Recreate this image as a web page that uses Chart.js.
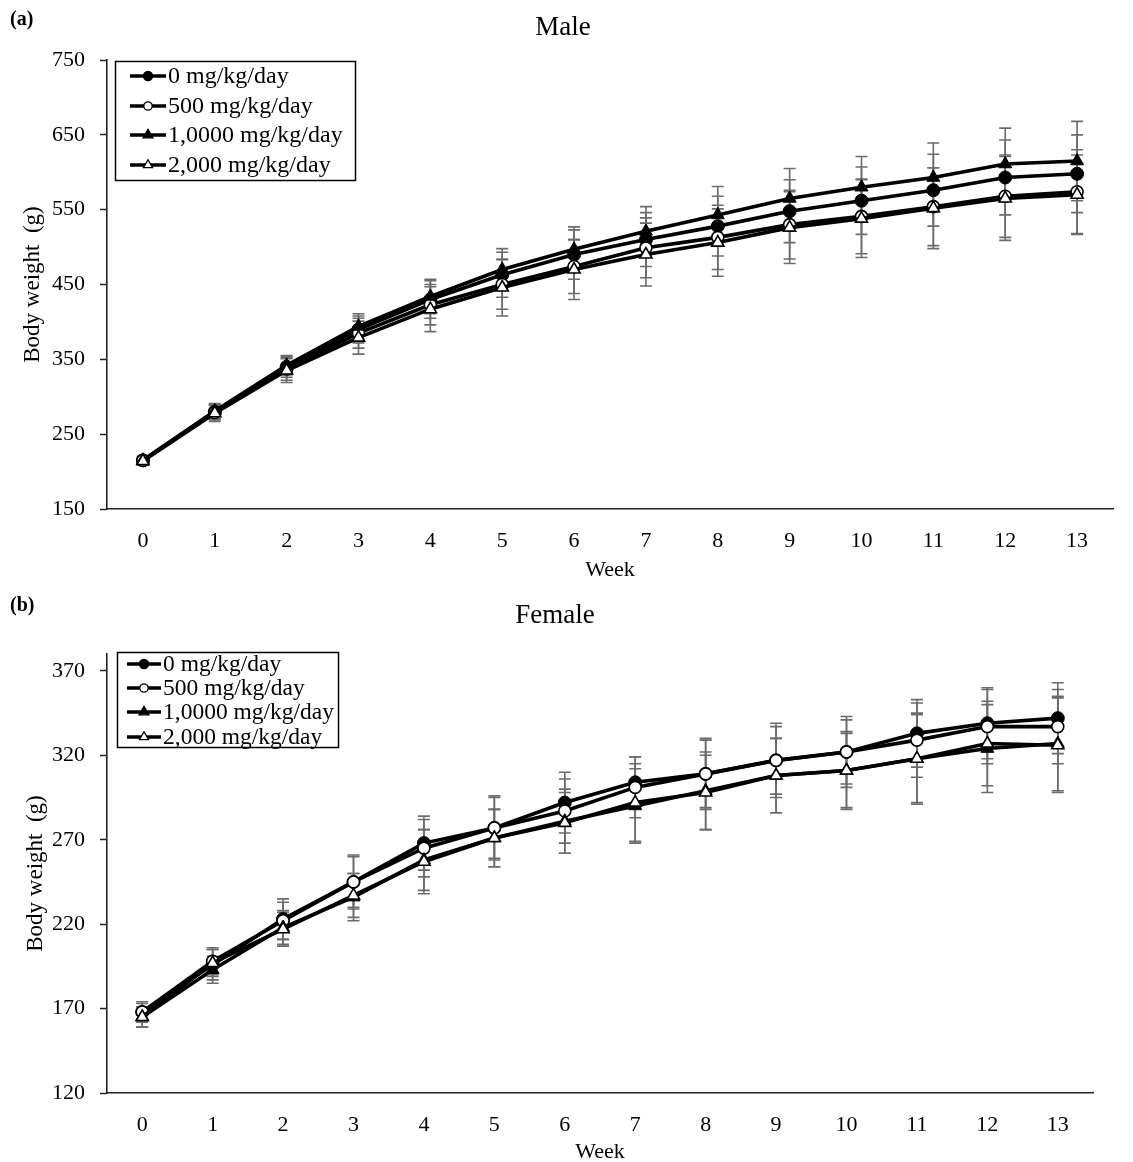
<!DOCTYPE html>
<html><head><meta charset="utf-8">
<script src="https://cdn.jsdelivr.net/npm/chart.js@4.4.1/dist/chart.umd.min.js"></script>
<style>
html,body{margin:0;padding:0;background:#fff;overflow:hidden;}
#wrap{position:relative;width:1133px;height:1162px;}
canvas{position:absolute;left:0;}
</style></head><body>
<div id="wrap">
<canvas id="male" width="1133" height="590" style="top:0;width:1133px;height:590px"></canvas>
<canvas id="female" width="1133" height="572" style="top:590px;width:1133px;height:572px"></canvas>
</div>
<script>
// ---------- data ----------
const weeks = ['0','1','2','3','4','5','6','7','8','9','10','11','12','13'];
const seriesLabels = ['0 mg/kg/day','500 mg/kg/day','1,0000 mg/kg/day','2,000 mg/kg/day'];

// Male body weight (g)
const male0    = [215, 280, 340, 390, 430, 463, 490, 510, 528, 548, 562, 576, 593, 598];
const male500  = [215, 279, 337, 385, 423, 450, 474, 499, 513, 530, 541, 554, 568, 574];
const male1000 = [215, 281, 342, 394, 434, 470, 497, 521, 543, 565, 580, 593, 611, 615];
const male2000 = [214, 278, 335, 379, 417, 446, 470, 490, 506, 526, 538, 552, 565, 570];
const maleSd0    = [5, 10, 14, 18, 25, 30, 33, 36, 40, 42, 45, 48, 50, 52];
const maleSd500  = [5, 10, 15, 20, 27, 33, 36, 40, 43, 46, 50, 52, 55, 56];
const maleSd1000 = [5, 10, 13, 17, 23, 28, 30, 33, 38, 40, 41, 46, 48, 53];
const maleSd2000 = [5, 11, 16, 22, 30, 38, 40, 42, 45, 48, 52, 54, 56, 53];
const maleYTicks = [150, 250, 350, 450, 550, 650, 750];

// Female body weight (g)
const female0    = [168, 196, 223, 245, 268, 277, 292, 304, 309, 317, 322, 333, 339, 342];
const female500  = [168, 198, 222, 245, 265, 277, 287, 301, 309, 317, 322, 329, 337, 337];
const female1000 = [165, 193, 218, 236, 258, 271, 281, 290, 299, 308, 311, 318, 324, 327];
const female2000 = [165, 197, 217, 237, 257, 271, 280, 292, 298, 308, 311, 318, 327, 326];
const femaleSd0    = [6, 9, 12, 16, 16, 19, 18, 15, 20, 20, 19, 20, 21, 21];
const femaleSd500  = [5, 8, 11, 15, 17, 18, 19, 18, 21, 22, 21, 22, 22, 22];
const femaleSd1000 = [6, 8, 10, 14, 18, 17, 19, 22, 23, 22, 23, 27, 26, 28];
const femaleSd2000 = [6, 8, 10, 13, 19, 17, 18, 23, 22, 22, 22, 26, 25, 28];
const femaleYTicks = [120, 170, 220, 270, 320, 370];

// ---------- styling ----------
const FONT = "'Liberation Serif','Times New Roman',serif";
const markerStyles = [
  {pointStyle:'circle',   bg:'#000', r:6.5, bw:1},
  {pointStyle:'circle',   bg:'#fff', r:6,   bw:1.6},
  {pointStyle:'triangle', bg:'#000', r:7.5, bw:1},
  {pointStyle:'triangle', bg:'#fff', r:7,   bw:1.6}
];

function makeChart(id, o){
  const sds = o.sds;
  const errorBars = {
    id:'errorBars',
    beforeDatasetsDraw(chart){
      const ctx = chart.ctx, ys = chart.scales.y;
      ctx.save();
      ctx.strokeStyle = '#6b6b6b';
      ctx.lineWidth = 1.6;
      chart.data.datasets.forEach((ds, i) => {
        const meta = chart.getDatasetMeta(i);
        meta.data.forEach((pt, j) => {
          const v = ds.data[j], e = sds[i][j];
          const t = ys.getPixelForValue(v + e), b = ys.getPixelForValue(v - e);
          ctx.beginPath();
          ctx.moveTo(pt.x, t); ctx.lineTo(pt.x, b);
          ctx.moveTo(pt.x - 6, t); ctx.lineTo(pt.x + 6, t);
          ctx.moveTo(pt.x - 6, b); ctx.lineTo(pt.x + 6, b);
          ctx.stroke();
        });
      });
      ctx.restore();
    }
  };
  const decor = {
    id:'decor',
    afterDraw(chart){
      const ctx = chart.ctx;
      ctx.save();
      // panel label & title
      ctx.fillStyle = '#000';
      ctx.textBaseline = 'middle';
      ctx.textAlign = 'left';
      ctx.font = "bold 20px " + FONT;
      ctx.fillText(o.panel, 10, o.panelY);
      ctx.textAlign = 'center';
      ctx.font = "27px " + FONT;
      ctx.fillText(o.title, o.titleX, o.titleY);
      // legend box
      const L = o.legend;
      ctx.strokeStyle = '#000';
      ctx.lineWidth = 1.5;
      ctx.strokeRect(L.x, L.y, L.w, L.h);
      ctx.font = L.fontSize + "px " + FONT;
      ctx.textAlign = 'left';
      chart.data.datasets.forEach((ds, i) => {
        const y = L.rows[i];
        ctx.beginPath();
        ctx.strokeStyle = '#000';
        ctx.lineWidth = 3.5;
        ctx.moveTo(L.lx0, y); ctx.lineTo(L.lx1, y);
        ctx.stroke();
        const m = markerStyles[i];
        const cx = (L.lx0 + L.lx1) / 2;
        ctx.fillStyle = m.bg; ctx.strokeStyle = '#000'; ctx.lineWidth = 1.3;
        ctx.beginPath();
        if (m.pointStyle === 'circle') {
          ctx.arc(cx, y, m.r * 0.7, 0, Math.PI * 2);
        } else {
          const r = m.r * 0.75;
          ctx.moveTo(cx, y - r);
          ctx.lineTo(cx + r * 0.866, y + r * 0.5);
          ctx.lineTo(cx - r * 0.866, y + r * 0.5);
          ctx.closePath();
        }
        ctx.fill(); ctx.stroke();
        ctx.fillStyle = '#000';
        ctx.fillText(ds.label, L.tx, y + 1);
      });
      ctx.restore();
    }
  };

  const datasets = o.series.map((d, i) => ({
    label: seriesLabels[i],
    data: d,
    borderColor: '#000',
    borderWidth: 3.6,
    tension: 0,
    pointStyle: markerStyles[i].pointStyle,
    pointRadius: markerStyles[i].r,
    pointBackgroundColor: markerStyles[i].bg,
    pointBorderColor: '#000',
    pointBorderWidth: markerStyles[i].bw,
    order: 3 - i,
    clip: false
  }));

  return new Chart(document.getElementById(id), {
    type: 'line',
    data: { labels: weeks, datasets },
    options: {
      responsive: false,
      animation: false,
      devicePixelRatio: 1,
      layout: { padding: { left: 0, top: o.area.top, right: o.canvasW - o.area.right, bottom: 0 } },
      plugins: { legend: { display: false }, tooltip: { enabled: false }, title: { display: false } },
      scales: {
        x: {
          type: 'category',
          offset: true,
          grid: { display: false },
          border: { display: true, color: '#222', width: 1.6 },
          ticks: { color: '#000', font: { family: FONT, size: 22 }, padding: 11, maxRotation: 0, autoSkip: false },
          title: { display: true, text: 'Week', color: '#000',
                   font: { family: FONT, size: 22, lineHeight: o.xTitleLH }, padding: { top: 0, bottom: o.xTitlePad } },
          afterFit(s){ s.height = o.canvasH - o.area.bottom; }
        },
        y: {
          min: o.yMin, max: o.yMax,
          afterBuildTicks(s){ s.ticks = o.yTicks.map(v => ({ value: v })); },
          grid: { display: true, drawOnChartArea: false, drawTicks: true, tickLength: 7, tickWidth: 1.5, tickColor: '#222' },
          border: { display: true, color: '#222', width: 1.6 },
          ticks: { color: '#000', font: { family: FONT, size: 22 }, padding: 15 },
          title: { display: true, text: 'Body weight  (g)', color: '#000',
                   font: { family: FONT, size: 23, lineHeight: 1.2 }, padding: { top: o.yTitlePad, bottom: 0 } },
          afterFit(s){ s.width = o.area.left; }
        }
      }
    },
    plugins: [errorBars, decor]
  });
}

makeChart('male', {
  canvasW: 1133, canvasH: 590,
  area: { left: 107, right: 1113, top: 60, bottom: 509 },
  series: [male0, male500, male1000, male2000],
  sds: [maleSd0, maleSd500, maleSd1000, maleSd2000],
  yMin: 150, yMax: 750, yTicks: maleYTicks,
  xTitleLH: 1.2, xTitlePad: 7, yTitlePad: 19,
  panel: '(a)', panelY: 20, title: 'Male', titleX: 563, titleY: 28,
  legend: { x: 115.5, y: 61.5, w: 240, h: 119, rows: [76, 106, 135, 165], lx0: 130, lx1: 166, tx: 168, fontSize: 24 }
});

makeChart('female', {
  canvasW: 1133, canvasH: 572,
  area: { left: 107, right: 1093, top: 64, bottom: 503 },
  series: [female0, female500, female1000, female2000],
  sds: [femaleSd0, femaleSd500, femaleSd1000, femaleSd2000],
  yMin: 120, yMax: 380, yTicks: femaleYTicks,
  xTitleLH: 0.9, xTitlePad: 0, yTitlePad: 22,
  panel: '(b)', panelY: 16, title: 'Female', titleX: 555, titleY: 26,
  legend: { x: 117.5, y: 62.5, w: 221, h: 95, rows: [74, 98, 122, 147], lx0: 127, lx1: 161, tx: 163, fontSize: 23.5 }
});
</script>
</body></html>
